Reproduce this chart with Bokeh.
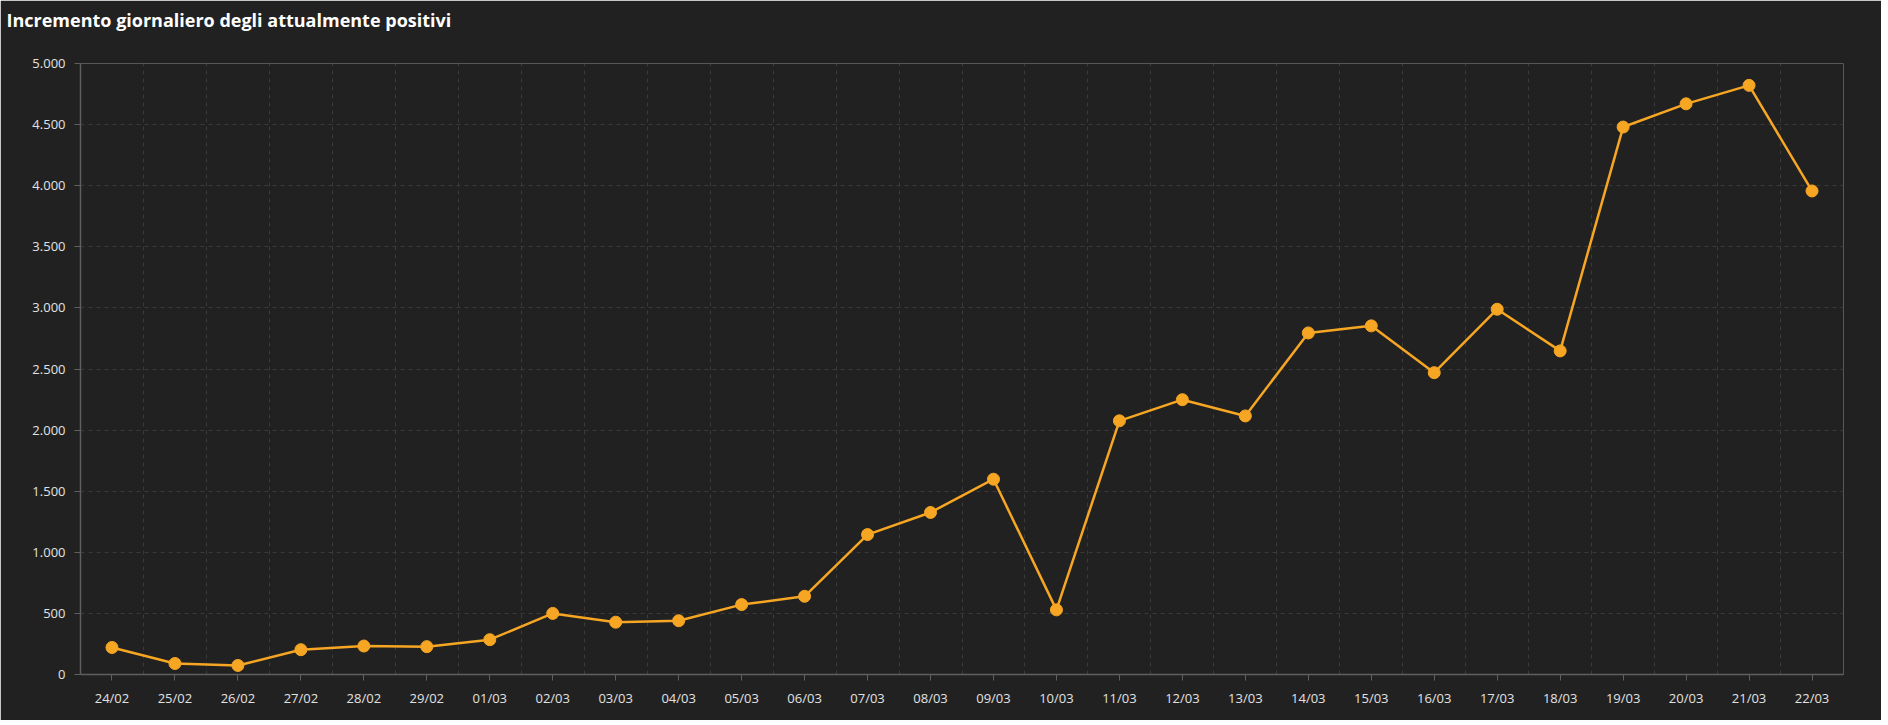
from bokeh.plotting import figure
from bokeh.models import Range1d, FixedTicker, Title
from bokeh.embed import file_html
from bokeh.resources import INLINE

dates = ["24/02", "25/02", "26/02", "27/02", "28/02", "29/02", "01/03", "02/03",
         "03/03", "04/03", "05/03", "06/03", "07/03", "08/03", "09/03", "10/03",
         "11/03", "12/03", "13/03", "14/03", "15/03", "16/03", "17/03", "18/03",
         "19/03", "20/03", "21/03", "22/03"]
increments = [221, 90, 74, 203, 233, 228, 285, 500,
              428, 440, 572, 640, 1145, 1326, 1598, 529,
              2076, 2249, 2116, 2795, 2853, 2470, 2989, 2648,
              4480, 4670, 4821, 3957]
y_ticks = list(range(0, 5001, 500))
title_text = "Incremento giornaliero degli attualmente positivi"

BG = "#212121"
ORANGE = "#F6A623"
GRID = "#3a3a3a"
AXIS = "#5f5f5f"
TXT = "#e2e2e2"

xs = list(range(len(dates)))

p = figure(width=1881, height=720, output_backend="svg", toolbar_location=None,
           x_range=Range1d(-0.5, len(dates) - 0.5), y_range=Range1d(0, 5000),
           min_border_left=80, min_border_right=38, min_border_top=63, min_border_bottom=46)
p.background_fill_color = BG
p.border_fill_color = BG
p.outline_line_color = None

p.line(xs, increments, line_color=ORANGE, line_width=2.5)
p.scatter(xs, increments, size=12, fill_color=ORANGE, line_color=ORANGE)

# axes
p.xaxis.ticker = FixedTicker(ticks=xs)
p.xaxis.major_label_overrides = {i: d for i, d in enumerate(dates)}
p.yaxis.ticker = FixedTicker(ticks=y_ticks)
p.yaxis.major_label_overrides = {v: f"{v:,}".replace(",", ".") for v in y_ticks}
for ax in (p.xaxis, p.yaxis):
    ax.axis_line_color = AXIS
    ax.axis_line_width = 1.5
    ax.major_tick_line_color = AXIS
    ax.major_tick_out = 6
    ax.major_tick_in = 0
    ax.minor_tick_line_color = None
    ax.major_label_text_color = TXT
    ax.major_label_text_font = "Open Sans"
    ax.major_label_text_font_size = "13px"
p.yaxis.major_label_standoff = 9
p.xaxis.major_label_standoff = 8

# grids
p.xgrid.ticker = FixedTicker(ticks=[i + 0.5 for i in range(-1, len(dates))])
p.xgrid.grid_line_color = GRID
p.xgrid.grid_line_dash = "4 4"
p.ygrid.ticker = FixedTicker(ticks=y_ticks)
p.ygrid.grid_line_color = GRID
p.ygrid.grid_line_dash = "4 4"

# spacer (closest to frame) then the real title above it
spacer = Title(text=" ", text_font_size="13px", text_color=BG)
p.add_layout(spacer, "above")
main_title = Title(text=title_text, text_color="#ffffff", text_font="Open Sans",
                   text_font_style="bold", text_font_size="18px",
                   align="left", offset=-74)
p.add_layout(main_title, "above")

html = file_html(p, INLINE)
html = html.replace("<body>", '<body style="margin:0;background:#0a0a0a;">', 1)
open("out.html", "w").write(html)
